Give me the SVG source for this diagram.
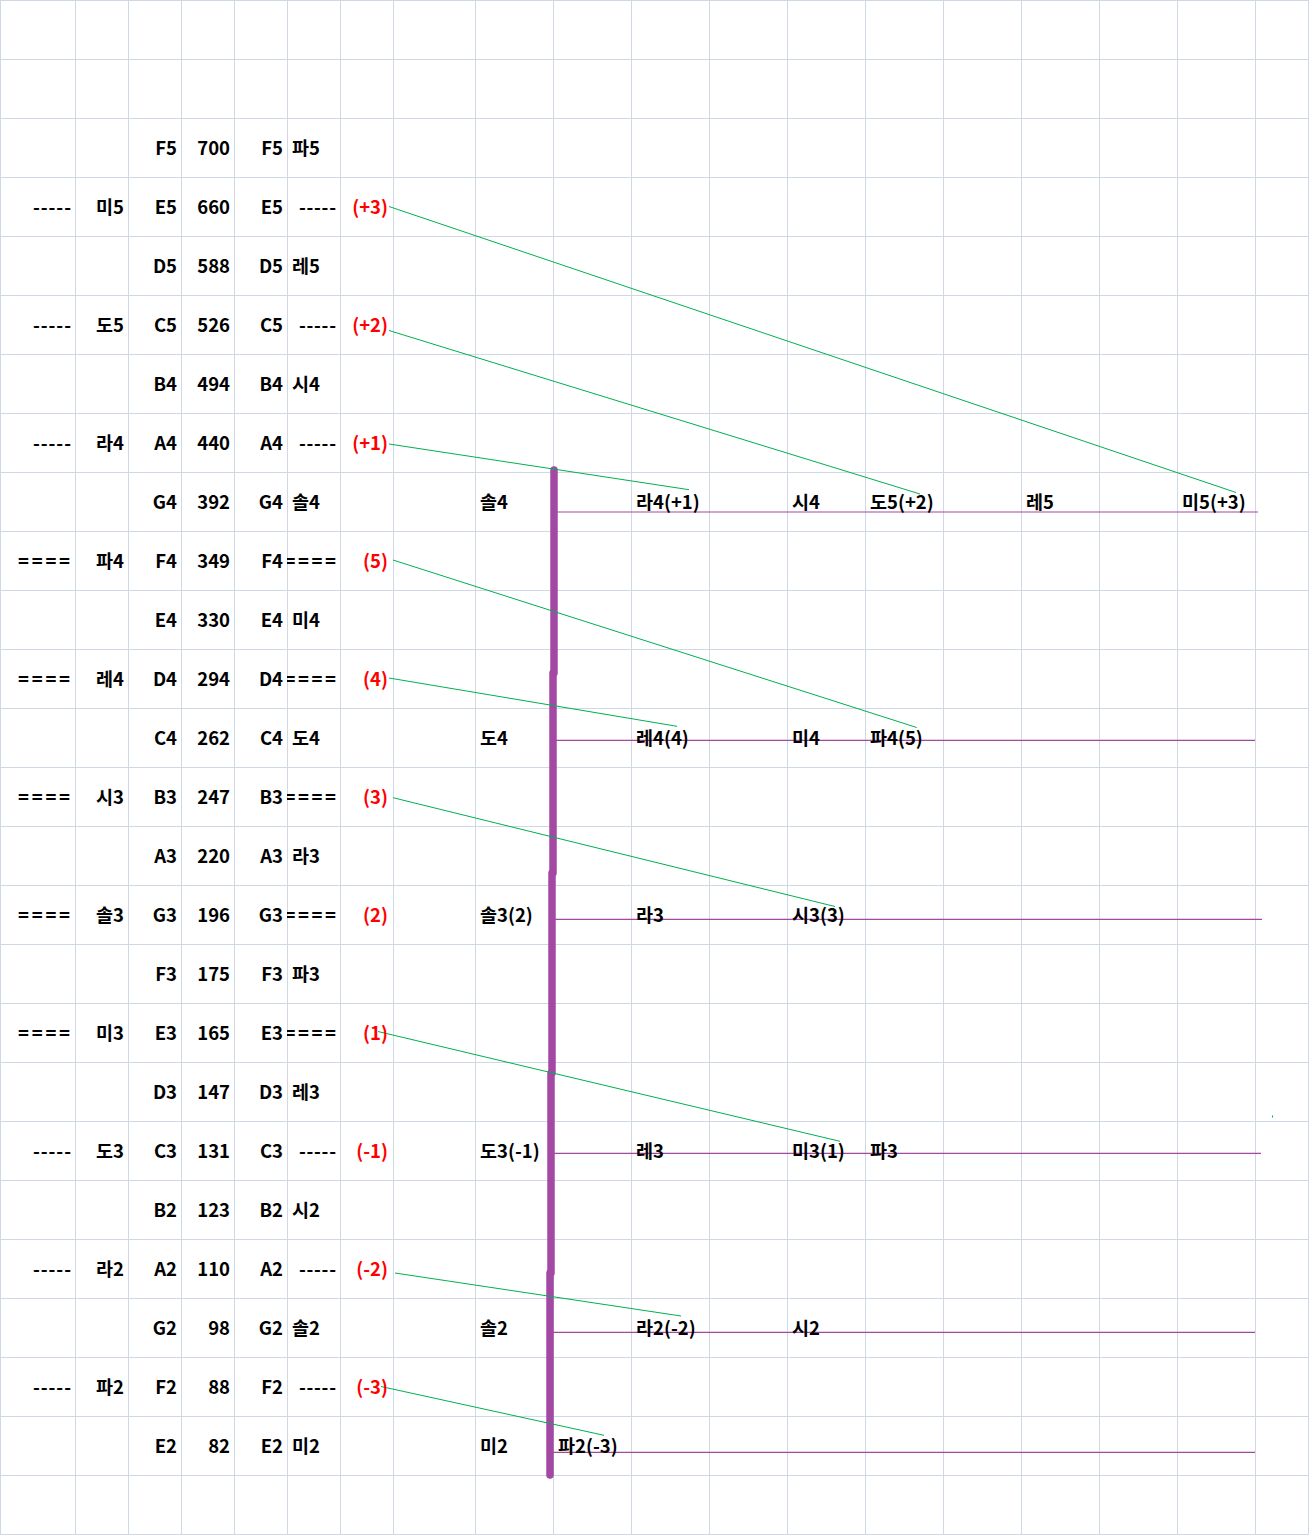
<svg xmlns="http://www.w3.org/2000/svg" width="1309" height="1535" viewBox="0 0 1309 1535">
<style>
.g line{stroke:#d0d7e5;stroke-width:1}
text{font-family:"Noto Sans CJK KR","Noto Sans",sans-serif;font-weight:bold;font-size:18.5px;fill:#000}
.e{text-anchor:end}
.red{fill:#ff0000}
.gr{stroke:#00b050;stroke-width:1;fill:none}
.pu{stroke:#a349a4;stroke-width:1.2;fill:none}
.pk{stroke:#a349a4;stroke-width:7.5;stroke-linecap:round;fill:none}
</style>
<defs>
<clipPath id="cf"><rect x="287" y="0" width="53" height="1535"/></clipPath>
</defs>
<rect width="1309" height="1535" fill="#fff"/>
<g class="g" id="grid">
<line x1="0.5" y1="0" x2="0.5" y2="1535"/><line x1="75.5" y1="0" x2="75.5" y2="1535"/><line x1="128.5" y1="0" x2="128.5" y2="1535"/><line x1="181.5" y1="0" x2="181.5" y2="1535"/><line x1="234.5" y1="0" x2="234.5" y2="1535"/><line x1="287.5" y1="0" x2="287.5" y2="1535"/><line x1="340.5" y1="0" x2="340.5" y2="1535"/><line x1="393.5" y1="0" x2="393.5" y2="1535"/><line x1="475.5" y1="0" x2="475.5" y2="1535"/><line x1="553.5" y1="0" x2="553.5" y2="1535"/><line x1="631.5" y1="0" x2="631.5" y2="1535"/><line x1="709.5" y1="0" x2="709.5" y2="1535"/><line x1="787.5" y1="0" x2="787.5" y2="1535"/><line x1="865.5" y1="0" x2="865.5" y2="1535"/><line x1="943.5" y1="0" x2="943.5" y2="1535"/><line x1="1021.5" y1="0" x2="1021.5" y2="1535"/><line x1="1099.5" y1="0" x2="1099.5" y2="1535"/><line x1="1177.5" y1="0" x2="1177.5" y2="1535"/><line x1="1255.5" y1="0" x2="1255.5" y2="1535"/><line x1="1308.5" y1="0" x2="1308.5" y2="1535"/>
<line x1="0" y1="0.5" x2="1309" y2="0.5"/><line x1="0" y1="59.5" x2="1309" y2="59.5"/><line x1="0" y1="118.5" x2="1309" y2="118.5"/><line x1="0" y1="177.5" x2="1309" y2="177.5"/><line x1="0" y1="236.5" x2="1309" y2="236.5"/><line x1="0" y1="295.5" x2="1309" y2="295.5"/><line x1="0" y1="354.5" x2="1309" y2="354.5"/><line x1="0" y1="413.5" x2="1309" y2="413.5"/><line x1="0" y1="472.5" x2="1309" y2="472.5"/><line x1="0" y1="531.5" x2="1309" y2="531.5"/><line x1="0" y1="590.5" x2="1309" y2="590.5"/><line x1="0" y1="649.5" x2="1309" y2="649.5"/><line x1="0" y1="708.5" x2="1309" y2="708.5"/><line x1="0" y1="767.5" x2="1309" y2="767.5"/><line x1="0" y1="826.5" x2="1309" y2="826.5"/><line x1="0" y1="885.5" x2="1309" y2="885.5"/><line x1="0" y1="944.5" x2="1309" y2="944.5"/><line x1="0" y1="1003.5" x2="1309" y2="1003.5"/><line x1="0" y1="1062.5" x2="1309" y2="1062.5"/><line x1="0" y1="1121.5" x2="1309" y2="1121.5"/><line x1="0" y1="1180.5" x2="1309" y2="1180.5"/><line x1="0" y1="1239.5" x2="1309" y2="1239.5"/><line x1="0" y1="1298.5" x2="1309" y2="1298.5"/><line x1="0" y1="1357.5" x2="1309" y2="1357.5"/><line x1="0" y1="1416.5" x2="1309" y2="1416.5"/><line x1="0" y1="1475.5" x2="1309" y2="1475.5"/><line x1="0" y1="1534.5" x2="1309" y2="1534.5"/>
</g>
<g id="connectors">
<path class="pk" d="M554,470V673"/>
<path class="pk" d="M553,673V873"/>
<path class="pk" d="M552,873V1073"/>
<path class="pk" d="M551,1073V1273"/>
<path class="pk" d="M550,1273V1475"/>
<line class="pu" x1="557" y1="512" x2="1258" y2="512"/>
<line class="pu" x1="556" y1="740.3" x2="1255" y2="740.3"/>
<line class="pu" x1="555" y1="919.3" x2="1262" y2="919.3"/>
<line class="pu" x1="554" y1="1153.3" x2="1261" y2="1153.3"/>
<line class="pu" x1="553" y1="1332.3" x2="1255" y2="1332.3"/>
<line class="pu" x1="553" y1="1452.3" x2="1255" y2="1452.3"/>
<line class="gr" x1="389" y1="206.5" x2="1236" y2="492.5"/>
<line class="gr" x1="389" y1="330.5" x2="920" y2="494"/>
<line class="gr" x1="389" y1="444" x2="689" y2="489.7"/>
<line class="gr" x1="393" y1="560" x2="916.7" y2="727.5"/>
<line class="gr" x1="389" y1="678" x2="677" y2="726.3"/>
<line class="gr" x1="393" y1="797.7" x2="835" y2="906.5"/>
<line class="gr" x1="378" y1="1031.5" x2="840" y2="1141.3"/>
<line class="gr" x1="395" y1="1273" x2="681" y2="1316"/>
<line class="gr" x1="381" y1="1386.5" x2="604" y2="1435.3"/>
<line class="gr" x1="1272.5" y1="1115.5" x2="1272.5" y2="1117.5"/>
</g>
<g id="dashes-right" clip-path="url(#cf)">
<text class="e" x="336" y="214" textLength="37">-----</text>
<text class="e" x="336" y="332" textLength="37">-----</text>
<text class="e" x="336" y="450" textLength="37">-----</text>
<text class="e" x="336" y="568" textLength="65">=====</text>
<text class="e" x="336" y="686" textLength="65">=====</text>
<text class="e" x="336" y="804" textLength="65">=====</text>
<text class="e" x="336" y="922" textLength="65">=====</text>
<text class="e" x="336" y="1040" textLength="65">=====</text>
<text class="e" x="336" y="1158" textLength="37">-----</text>
<text class="e" x="336" y="1276" textLength="37">-----</text>
<text class="e" x="336" y="1394" textLength="37">-----</text>
</g>
<g id="row-F5"><text class="e" x="177" y="155">F5</text><text class="e" x="230" y="155">700</text><text class="e" x="283" y="155">F5</text><text x="292" y="155">파5</text></g>
<g id="row-E5"><text class="e" x="71" y="214" textLength="38">-----</text><text class="e" x="124" y="214">미5</text><text class="e" x="177" y="214">E5</text><text class="e" x="230" y="214">660</text><text class="e" x="283" y="214">E5</text><text class="e red" x="388" y="214">(+3)</text></g>
<g id="row-D5"><text class="e" x="177" y="273">D5</text><text class="e" x="230" y="273">588</text><text class="e" x="283" y="273">D5</text><text x="292" y="273">레5</text></g>
<g id="row-C5"><text class="e" x="71" y="332" textLength="38">-----</text><text class="e" x="124" y="332">도5</text><text class="e" x="177" y="332">C5</text><text class="e" x="230" y="332">526</text><text class="e" x="283" y="332">C5</text><text class="e red" x="388" y="332">(+2)</text></g>
<g id="row-B4"><text class="e" x="177" y="391">B4</text><text class="e" x="230" y="391">494</text><text class="e" x="283" y="391">B4</text><text x="292" y="391">시4</text></g>
<g id="row-A4"><text class="e" x="71" y="450" textLength="38">-----</text><text class="e" x="124" y="450">라4</text><text class="e" x="177" y="450">A4</text><text class="e" x="230" y="450">440</text><text class="e" x="283" y="450">A4</text><text class="e red" x="388" y="450">(+1)</text></g>
<g id="row-G4"><text class="e" x="177" y="509">G4</text><text class="e" x="230" y="509">392</text><text class="e" x="283" y="509">G4</text><text x="292" y="509">솔4</text><text x="480" y="509">솔4</text><text x="636" y="509">라4(+1)</text><text x="792" y="509">시4</text><text x="870" y="509">도5(+2)</text><text x="1026" y="509">레5</text><text x="1182" y="509">미5(+3)</text></g>
<g id="row-F4"><text class="e" x="70" y="568" textLength="52">====</text><text class="e" x="124" y="568">파4</text><text class="e" x="177" y="568">F4</text><text class="e" x="230" y="568">349</text><text class="e" x="283" y="568">F4</text><text class="e red" x="388" y="568">(5)</text></g>
<g id="row-E4"><text class="e" x="177" y="627">E4</text><text class="e" x="230" y="627">330</text><text class="e" x="283" y="627">E4</text><text x="292" y="627">미4</text></g>
<g id="row-D4"><text class="e" x="70" y="686" textLength="52">====</text><text class="e" x="124" y="686">레4</text><text class="e" x="177" y="686">D4</text><text class="e" x="230" y="686">294</text><text class="e" x="283" y="686">D4</text><text class="e red" x="388" y="686">(4)</text></g>
<g id="row-C4"><text class="e" x="177" y="745">C4</text><text class="e" x="230" y="745">262</text><text class="e" x="283" y="745">C4</text><text x="292" y="745">도4</text><text x="480" y="745">도4</text><text x="636" y="745">레4(4)</text><text x="792" y="745">미4</text><text x="870" y="745">파4(5)</text></g>
<g id="row-B3"><text class="e" x="70" y="804" textLength="52">====</text><text class="e" x="124" y="804">시3</text><text class="e" x="177" y="804">B3</text><text class="e" x="230" y="804">247</text><text class="e" x="283" y="804">B3</text><text class="e red" x="388" y="804">(3)</text></g>
<g id="row-A3"><text class="e" x="177" y="863">A3</text><text class="e" x="230" y="863">220</text><text class="e" x="283" y="863">A3</text><text x="292" y="863">라3</text></g>
<g id="row-G3"><text class="e" x="70" y="922" textLength="52">====</text><text class="e" x="124" y="922">솔3</text><text class="e" x="177" y="922">G3</text><text class="e" x="230" y="922">196</text><text class="e" x="283" y="922">G3</text><text class="e red" x="388" y="922">(2)</text><text x="480" y="922">솔3(2)</text><text x="636" y="922">라3</text><text x="792" y="922">시3(3)</text></g>
<g id="row-F3"><text class="e" x="177" y="981">F3</text><text class="e" x="230" y="981">175</text><text class="e" x="283" y="981">F3</text><text x="292" y="981">파3</text></g>
<g id="row-E3"><text class="e" x="70" y="1040" textLength="52">====</text><text class="e" x="124" y="1040">미3</text><text class="e" x="177" y="1040">E3</text><text class="e" x="230" y="1040">165</text><text class="e" x="283" y="1040">E3</text><text class="e red" x="388" y="1040">(1)</text></g>
<g id="row-D3"><text class="e" x="177" y="1099">D3</text><text class="e" x="230" y="1099">147</text><text class="e" x="283" y="1099">D3</text><text x="292" y="1099">레3</text></g>
<g id="row-C3"><text class="e" x="71" y="1158" textLength="38">-----</text><text class="e" x="124" y="1158">도3</text><text class="e" x="177" y="1158">C3</text><text class="e" x="230" y="1158">131</text><text class="e" x="283" y="1158">C3</text><text class="e red" x="388" y="1158">(-1)</text><text x="480" y="1158">도3(-1)</text><text x="636" y="1158">레3</text><text x="792" y="1158">미3(1)</text><text x="870" y="1158">파3</text></g>
<g id="row-B2"><text class="e" x="177" y="1217">B2</text><text class="e" x="230" y="1217">123</text><text class="e" x="283" y="1217">B2</text><text x="292" y="1217">시2</text></g>
<g id="row-A2"><text class="e" x="71" y="1276" textLength="38">-----</text><text class="e" x="124" y="1276">라2</text><text class="e" x="177" y="1276">A2</text><text class="e" x="230" y="1276">110</text><text class="e" x="283" y="1276">A2</text><text class="e red" x="388" y="1276">(-2)</text></g>
<g id="row-G2"><text class="e" x="177" y="1335">G2</text><text class="e" x="230" y="1335">98</text><text class="e" x="283" y="1335">G2</text><text x="292" y="1335">솔2</text><text x="480" y="1335">솔2</text><text x="636" y="1335">라2(-2)</text><text x="792" y="1335">시2</text></g>
<g id="row-F2"><text class="e" x="71" y="1394" textLength="38">-----</text><text class="e" x="124" y="1394">파2</text><text class="e" x="177" y="1394">F2</text><text class="e" x="230" y="1394">88</text><text class="e" x="283" y="1394">F2</text><text class="e red" x="388" y="1394">(-3)</text></g>
<g id="row-E2"><text class="e" x="177" y="1453">E2</text><text class="e" x="230" y="1453">82</text><text class="e" x="283" y="1453">E2</text><text x="292" y="1453">미2</text><text x="480" y="1453">미2</text><text x="558" y="1453">파2(-3)</text></g>
</svg>
